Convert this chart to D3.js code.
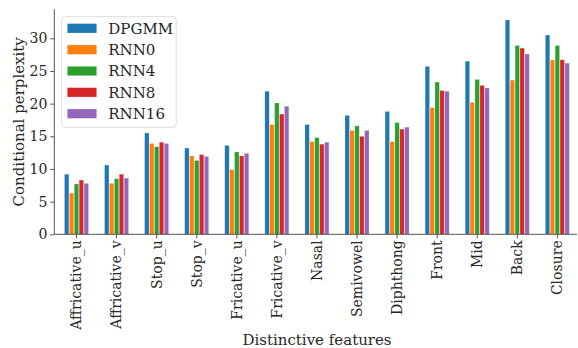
<!DOCTYPE html>
<html>
<head>
<meta charset="utf-8">
<script src="https://cdn.jsdelivr.net/npm/d3@7"></script>
<style>
  html, body { margin: 0; padding: 0; background: #fff; }
  svg { display: block; font-family: "DejaVu Serif", serif; }
</style>
</head>
<body>
<svg id="chart" width="578" height="348"></svg>
<script>
// Conditional perplexity per distinctive feature, for each model
const categories = ["Affricative_u", "Affricative_v", "Stop_u", "Stop_v", "Fricative_u",
  "Fricative_v", "Nasal", "Semivowel", "Diphthong", "Front", "Mid", "Back", "Closure"];
const seriesNames = ["DPGMM", "RNN0", "RNN4", "RNN8", "RNN16"];
const DPGMM = [9.2, 10.6, 15.5, 13.2, 13.6, 21.9, 16.8, 18.2, 18.8, 25.7, 26.5, 32.8, 30.5];
const RNN0  = [6.3, 7.8, 13.9, 12.0, 9.9, 16.8, 14.2, 15.9, 14.2, 19.4, 20.2, 23.6, 26.7];
const RNN4  = [7.7, 8.5, 13.4, 11.3, 12.6, 20.1, 14.8, 16.6, 17.1, 23.3, 23.7, 28.9, 28.9];
const RNN8  = [8.3, 9.2, 14.1, 12.2, 12.0, 18.4, 13.8, 15.0, 16.1, 22.0, 22.8, 28.5, 26.7];
const RNN16 = [7.8, 8.6, 13.9, 11.9, 12.4, 19.6, 14.1, 15.9, 16.4, 21.9, 22.4, 27.6, 26.2];
const yTicks = [0, 5, 10, 15, 20, 25, 30];
const colors = ["#1f77b4", "#ff7f0e", "#2ca02c", "#d62728", "#9467bd"];

const seriesValues = [DPGMM, RNN0, RNN4, RNN8, RNN16];

const svg = d3.select("#chart");
const textColor = "#262626";
const axisColor = "#555555";

const plotLeft = 54.3, plotBottom = 234.3, plotTop = 9.3, plotRight = 577;

const x = d3.scaleBand().domain(categories).range([56.45, 577.4]).paddingInner(0).paddingOuter(0);
const xInner = d3.scaleBand().domain(seriesNames)
  .range([(x.bandwidth() - 24.5) / 2, (x.bandwidth() + 24.5) / 2]);
const y = d3.scaleLinear().domain([0, 34.44]).range([plotBottom, plotTop]);

// bars
const groups = svg.append("g").selectAll("g")
  .data(categories)
  .join("g")
  .attr("transform", d => `translate(${x(d)},0)`);

groups.selectAll("rect")
  .data((c, i) => seriesNames.map((s, k) => ({ s, k, v: seriesValues[k][i] })))
  .join("rect")
  .attr("x", d => xInner(d.s) + 0.25)
  .attr("width", xInner.bandwidth() - 0.5)
  .attr("y", d => y(d.v))
  .attr("height", d => y(0) - y(d.v))
  .attr("fill", d => colors[d.k])
  .attr("stroke", "#ffffff")
  .attr("stroke-opacity", 0.35)
  .attr("stroke-width", 0.6);

// y axis
const yAxis = svg.append("g")
  .attr("transform", `translate(${plotLeft},0)`)
  .call(d3.axisLeft(y).tickValues(yTicks).tickSize(4).tickPadding(3).tickFormat(d3.format("d")));
yAxis.select(".domain").remove();
yAxis.selectAll(".tick line").attr("stroke", axisColor).attr("stroke-width", 1);
yAxis.selectAll(".tick text")
  .attr("fill", textColor)
  .style("font-family", "DejaVu Serif")
  .style("font-size", "14px");

// x axis
const xAxis = svg.append("g")
  .attr("transform", `translate(0,${plotBottom})`)
  .call(d3.axisBottom(x).tickSize(4).tickPadding(3));
xAxis.select(".domain").remove();
xAxis.selectAll(".tick line").attr("stroke", axisColor).attr("stroke-width", 1);
xAxis.selectAll(".tick text")
  .attr("fill", textColor)
  .style("font-family", "DejaVu Serif")
  .style("font-size", "14px")
  .attr("text-anchor", "end")
  .attr("transform", "rotate(-90)")
  .attr("x", -6)
  .attr("y", 0)
  .attr("dy", "0.35em");

// spines
svg.append("line")
  .attr("x1", plotLeft).attr("x2", plotLeft).attr("y1", plotTop).attr("y2", plotBottom)
  .attr("stroke", axisColor).attr("stroke-width", 1);
svg.append("line")
  .attr("x1", plotLeft).attr("x2", plotRight).attr("y1", plotBottom).attr("y2", plotBottom)
  .attr("stroke", axisColor).attr("stroke-width", 1);

// axis titles
svg.append("text")
  .attr("transform", `translate(24,${(plotTop + plotBottom) / 2}) rotate(-90)`)
  .attr("text-anchor", "middle")
  .attr("fill", textColor)
  .style("font-size", "15px")
  .text("Conditional perplexity");

svg.append("text")
  .attr("x", 317)
  .attr("y", 344.5)
  .attr("text-anchor", "middle")
  .attr("fill", textColor)
  .style("font-size", "15px")
  .text("Distinctive features");

// legend
const legend = svg.append("g");
legend.append("rect")
  .attr("x", 61.7).attr("y", 16.7)
  .attr("width", 114.5).attr("height", 110.6)
  .attr("rx", 3)
  .attr("fill", "#ffffff").attr("fill-opacity", 0.85)
  .attr("stroke", "#dddddd").attr("stroke-width", 1);

const items = legend.selectAll("g.item")
  .data(seriesNames)
  .join("g")
  .attr("class", "item")
  .attr("transform", (d, i) => `translate(0,${28.3 + i * 21.35})`);
items.append("rect")
  .attr("x", 67.3).attr("y", -4.7)
  .attr("width", 29.4).attr("height", 9.4)
  .attr("fill", (d, i) => colors[i])
  .attr("stroke", "#ffffff").attr("stroke-opacity", 0.35).attr("stroke-width", 0.6);
items.append("text")
  .attr("x", 108.3).attr("y", 0)
  .attr("dy", "0.36em")
  .attr("fill", textColor)
  .style("font-size", "15px")
  .text(d => d);
</script>
</body>
</html>
